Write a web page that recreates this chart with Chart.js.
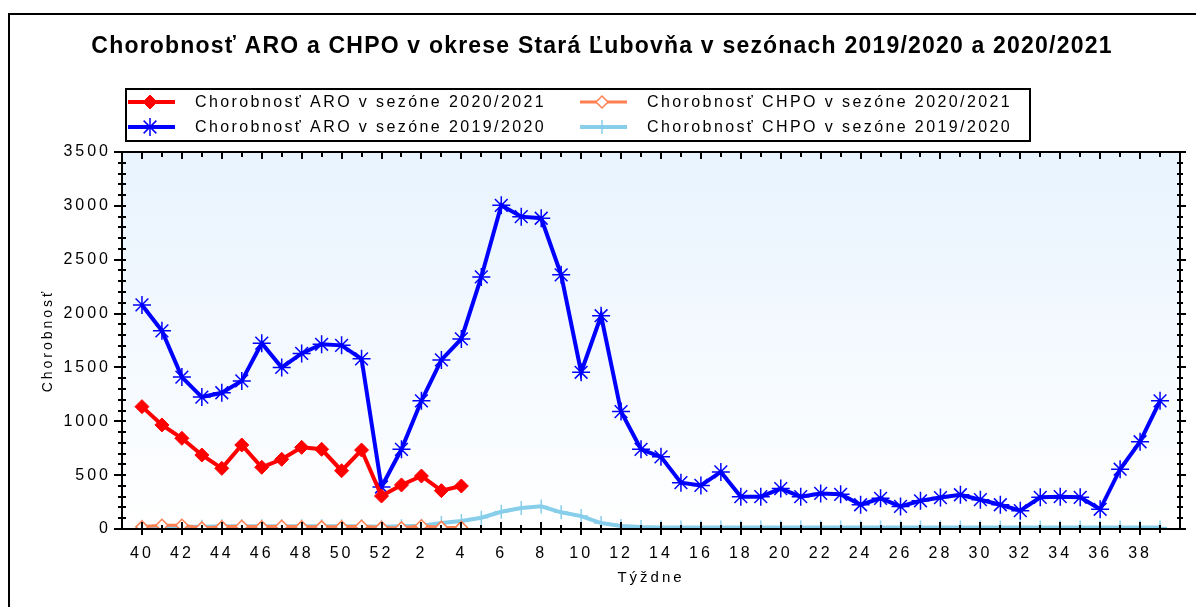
<!DOCTYPE html>
<html>
<head>
<meta charset="utf-8">
<script src="https://cdn.jsdelivr.net/npm/chart.js@4.4.1/dist/chart.umd.min.js"></script>
<style>
  html, body { margin: 0; padding: 0; background: #fff; }
  #wrap { width: 1196px; height: 607px; }
</style>
</head>
<body>
<div id="wrap"><canvas id="chart"></canvas></div>
<script>
// season weeks: 40..52, then 1..39
const weeks = ['40','41','42','43','44','45','46','47','48','49','50','51','52',
  '1','2','3','4','5','6','7','8','9','10','11','12','13','14','15','16','17','18','19','20',
  '21','22','23','24','25','26','27','28','29','30','31','32','33','34','35','36','37','38','39'];
const shownWeeks = ['40','42','44','46','48','50','52','2','4','6','8','10','12','14','16','18',
  '20','22','24','26','28','30','32','34','36','38'];

const chartTitle = 'Chorobnosť ARO a CHPO v okrese Stará Ľubovňa v sezónach 2019/2020 a 2020/2021';
const labelAroNew = 'Chorobnosť ARO v sezóne 2020/2021';
const labelChpoNew = 'Chorobnosť CHPO v sezóne 2020/2021';
const labelAroOld = 'Chorobnosť ARO v sezóne 2019/2020';
const labelChpoOld = 'Chorobnosť CHPO v sezóne 2019/2020';

// 2020/2021 (weeks 40..4)
const aroNew = [1136, 966, 842, 687, 563, 780, 573, 647, 758, 740, 541, 733, 306, 409, 492, 356, 399];
const chpoNew = [20, 35, 35, 10, 20, 25, 20, 25, 20, 20, 20, 25, 15, 10, 30, 15, 15];

// 2019/2020 (weeks 40..39)
const aroOld = [2080, 1840, 1410, 1225, 1265, 1375, 1725, 1500, 1630, 1715, 1705, 1580, 390,
  740, 1190, 1570, 1765, 2340, 3005, 2900, 2885, 2360, 1455,
  1980, 1090, 740, 670, 430, 405, 530, 300, 300, 375,
  300, 330, 322, 225, 285, 210, 262, 292, 318, 272,
  225, 170, 294, 300, 294, 183, 555, 810, 1190];
const chpoOld = [20, 20, 22, 22, 25, 25, 25, 25, 25, 25, 25, 25, 20,
  25, 30, 55, 75, 105, 160, 195, 210, 155, 120,
  55, 28, 18, 15, 15, 15, 15, 15, 15, 15,
  15, 15, 15, 15, 15, 15, 15, 15, 15, 15,
  15, 15, 15, 15, 15, 15, 15, 15, 15];

const toXY = arr => arr.map((v, i) => ({ x: i, y: v }));

// wide text like the original
const spacing = {
  id: 'spacing',
  beforeUpdate(chart) { chart.ctx.letterSpacing = '3px'; },
  beforeDraw(chart) { chart.ctx.letterSpacing = '3px'; }
};

// background gradient, outer border, plot frame and ticks
const frame = {
  id: 'frame',
  beforeDraw(chart) {
    const { ctx, chartArea: a } = chart;
    ctx.save();
    const g = ctx.createLinearGradient(0, a.top, 0, a.bottom);
    g.addColorStop(0, '#e8f3fe');
    g.addColorStop(1, '#ffffff');
    ctx.fillStyle = g;
    ctx.fillRect(a.left, a.top, a.right - a.left, a.bottom - a.top);
    ctx.strokeStyle = '#000';
    ctx.lineWidth = 2;
    ctx.strokeRect(9, 14, 1400, 800);
    ctx.restore();
  },
  afterDraw(chart) {
    const { ctx, chartArea: a, scales: { x, y } } = chart;
    ctx.save();
    ctx.strokeStyle = '#000';
    ctx.lineWidth = 2;
    ctx.strokeRect(a.left, a.top, a.right - a.left, a.bottom - a.top);
    ctx.beginPath();
    for (let v = y.min; v <= y.max; v += 100) {
      const py = Math.round(y.getPixelForValue(v));
      const major = v % 500 === 0;
      ctx.moveTo(a.left - (major ? 8 : 4), py);
      ctx.lineTo(a.left + 4, py);
      ctx.moveTo(a.right - 3, py);
      ctx.lineTo(a.right + (major ? 6 : 3), py);
    }
    for (let i = 0; i < weeks.length; i++) {
      const px = Math.round(x.getPixelForValue(i));
      const major = shownWeeks.includes(weeks[i]);
      ctx.moveTo(px, a.bottom - (major ? 7 : 4));
      ctx.lineTo(px, a.bottom + (major ? 6 : 4));
      ctx.moveTo(px, a.top);
      ctx.lineTo(px, a.top + (major ? 7 : 5));
    }
    ctx.stroke();
    ctx.restore();
  }
};

// title and boxed two-column legend
const legendBox = {
  id: 'legendBox',
  afterDraw(chart) {
    const ctx = chart.ctx;
    ctx.save();
    ctx.fillStyle = '#000';
    ctx.font = 'bold 23px "Liberation Sans", Arial, sans-serif';
    ctx.letterSpacing = '1.2px';
    ctx.textAlign = 'center';
    ctx.textBaseline = 'middle';
    ctx.fillText(chartTitle, 602, 47);

    const slots = [[128, 102], [580, 102], [128, 127], [580, 127]];
    ctx.strokeStyle = '#000';
    ctx.lineWidth = 2;
    ctx.strokeRect(126, 89, 904, 52);
    chart.data.datasets.forEach((ds, i) => {
      const [sx, sy] = slots[i];
      ctx.strokeStyle = ds.borderColor;
      ctx.lineWidth = ds.borderWidth;
      ctx.beginPath();
      ctx.moveTo(sx, sy);
      ctx.lineTo(sx + 47, sy);
      ctx.stroke();
      ctx.fillStyle = ds.pointBackgroundColor;
      ctx.strokeStyle = ds.pointBorderColor;
      ctx.lineWidth = ds.pointBorderWidth;
      Chart.helpers.drawPoint(ctx, {
        pointStyle: ds.pointStyle, radius: ds.pointRadius,
        borderWidth: ds.pointBorderWidth, rotation: 0
      }, sx + 22, sy);
      ctx.fillStyle = '#000';
      ctx.font = '16px "Liberation Sans", Arial, sans-serif';
      ctx.letterSpacing = '2.4px';
      ctx.textBaseline = 'middle';
      ctx.textAlign = 'left';
      ctx.fillText(ds.label, sx + 67, sy + 1);
    });
    ctx.restore();
  }
};

Chart.defaults.color = '#000';
Chart.defaults.font.family = '"Liberation Sans", Arial, sans-serif';

new Chart(document.getElementById('chart'), {
  type: 'line',
  data: {
    datasets: [
      {
        label: labelAroNew, data: toXY(aroNew),
        borderColor: '#ff0000', borderWidth: 4,
        pointStyle: 'rectRot', pointRadius: 7,
        pointBackgroundColor: '#ff0000', pointBorderColor: '#ff0000', pointBorderWidth: 1
      },
      {
        label: labelChpoNew, data: toXY(chpoNew),
        borderColor: '#ff7f50', borderWidth: 3,
        pointStyle: 'rectRot', pointRadius: 6,
        pointBackgroundColor: '#ffffff', pointBorderColor: '#ff7f50', pointBorderWidth: 1.5
      },
      {
        label: labelAroOld, data: toXY(aroOld),
        borderColor: '#0000ff', borderWidth: 4,
        pointStyle: 'star', pointRadius: 9,
        pointBackgroundColor: '#0000ff', pointBorderColor: '#0000ff', pointBorderWidth: 1.5
      },
      {
        label: labelChpoOld, data: toXY(chpoOld),
        borderColor: '#87ceeb', borderWidth: 4,
        pointStyle: 'cross', pointRadius: 7,
        pointBackgroundColor: '#87ceeb', pointBorderColor: '#87ceeb', pointBorderWidth: 1.5
      }
    ]
  },
  options: {
    responsive: true,
    maintainAspectRatio: false,
    animation: false,
    devicePixelRatio: 1,
    layout: { padding: { left: 30, right: 16, top: 152, bottom: 10 } },
    plugins: {
      legend: { display: false },
      tooltip: { enabled: false },
      title: { display: false }
    },
    scales: {
      x: {
        type: 'linear',
        min: -1,
        max: 52,
        grid: { display: false, drawTicks: false },
        border: { display: false },
        afterFit(scale) { scale.height = 68; },
        ticks: {
          stepSize: 1,
          autoSkip: false,
          maxRotation: 0,
          padding: 15,
          font: { size: 16 },
          callback: v => (shownWeeks.includes(weeks[v]) ? weeks[v] : '')
        },
        title: { display: true, text: 'Týždne', font: { size: 15 }, padding: { top: 0, bottom: 10 } }
      },
      y: {
        min: 0,
        max: 3500,
        grid: { display: false, drawTicks: false },
        border: { display: false },
        afterFit(scale) { scale.width = 92; },
        ticks: { stepSize: 500, padding: 11, font: { size: 16 }, callback: v => String(v) },
        title: { display: true, text: 'Chorobnosť', font: { size: 14 }, padding: { top: 10, bottom: 0 } }
      }
    }
  },
  plugins: [spacing, frame, legendBox]
});
</script>
</body>
</html>
